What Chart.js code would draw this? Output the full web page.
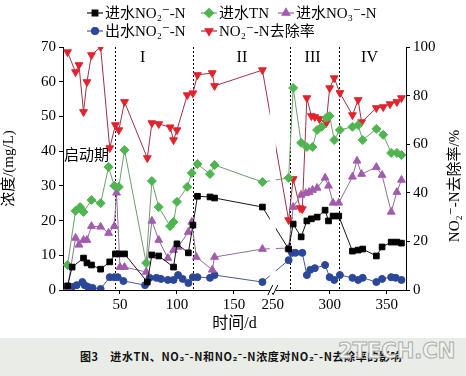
<!doctype html>
<html>
<head>
<meta charset="utf-8">
<title>进水TN、NO3-N和NO2-N浓度对NO2-N去除率的影响</title>
<script src="https://cdn.jsdelivr.net/npm/chart.js@4/dist/chart.umd.min.js"></script>
<style>
	body { margin: 0; background: #fff; }
	#wrap { width: 466px; height: 338px; }
	#caption { position: relative; width: 466px; height: 38px; background: #e9ece7; overflow: hidden; }
	#caption .t { position: absolute; left: 80px; top: 10px; font: bold 11px 'Noto Sans CJK SC', sans-serif; letter-spacing: 0.6px; color: #111; }
	#caption .wm { position: absolute; left: 338px; top: 1px; font: bold 21px 'DejaVu Sans', sans-serif; color: #f3f4f2; -webkit-text-stroke: 1px #a9aea9; }
</style>
</head>
<body>
<div id="wrap"><canvas id="canvas" width="466" height="338"></canvas></div>
<div id="caption"><span class="t">图3　进水TN、NO₃⁻-N和NO₂⁻-N浓度对NO₂⁻-N去除率的影响</span><span class="wm">2TECH.CN</span></div>
<script>
	// days (time axis is broken between ~180 d and ~254 d)
	const inNO2Days = [4, 8, 18, 21, 25, 33, 41, 46, 49, 54, 74, 78, 84, 97, 100, 110, 114, 118, 129, 133, 175,
		264, 268, 275, 280, 284, 289, 296, 299, 303, 308, 320, 325, 329, 341, 346, 354, 359, 363];
	const inNO2 = [1.2, 6.6, 9.2, 7.8, 7.2, 6.0, 8.1, 10.4, 10.4, 10.4, 2.3, 10.1, 9.8, 6.6, 13.3, 10.7, 18.7, 27.0, 26.8, 26.5, 23.9,
		11.8, 19.0, 15.3, 19.9, 20.5, 21.0, 23.0, 19.9, 21.3, 21.3, 11.2, 11.5, 11.8, 9.8, 12.4, 13.8, 13.8, 13.5];

	const tnDays = [4, 11, 15, 18, 25, 33, 40, 45, 49, 54, 73, 78, 84, 94, 97, 100, 109, 113, 118, 129, 133, 175,
		264, 268, 275, 280, 285, 289, 293, 297, 300, 304, 309, 320, 325, 329, 341, 347, 354, 359, 363];
	const inTN = [7.2, 22.8, 23.9, 22.5, 25.9, 25.0, 35.4, 30.0, 29.7, 40.3, 7.8, 31.4, 23.9, 18.4, 19.6, 25.4, 29.7, 33.7, 36.3, 33.4, 36.0, 31.1,
		32.3, 58.2, 42.4, 41.2, 41.2, 46.1, 47.0, 49.6, 50.1, 43.2, 46.1, 47.0, 47.5, 43.2, 46.4, 44.7, 39.5, 39.5, 38.9];

	const no3Days = [4, 11, 14, 18, 21, 25, 33, 40, 45, 47, 50, 54, 73, 78, 84, 92, 97, 101, 110, 113, 117, 131, 133, 175,
		264, 268, 275, 279, 282, 285, 289, 296, 299, 303, 308, 320, 324, 328, 341, 346, 354, 359, 363];
	const inNO3 = [0.6, 15.0, 13.0, 14.4, 14.4, 18.4, 18.2, 16.4, 18.4, 28.0, 6.6, 6.6, 5.2, 19.9, 14.4, 9.2, 11.5, 12.4, 16.7, 19.6, 9.5, 5.8, 9.5, 11.8,
		12.1, 23.9, 27.4, 27.9, 28.2, 28.8, 29.4, 32.3, 30.0, 25.1, 25.1, 32.6, 37.2, 33.4, 35.4, 33.1, 22.5, 28.2, 31.7];

	const outNO2Days = [4, 8, 12, 17, 19, 22, 26, 33, 41, 45, 48, 53, 72, 76, 82, 86, 92, 97, 101, 105, 110, 114, 118, 129, 133, 175,
		264, 267, 270, 276, 280, 283, 287, 296, 300, 304, 309, 320, 325, 329, 341, 346, 354, 358, 363];
	const outNO2 = [0.3, 0.9, 1.4, 2.3, 1.4, 0.9, 0.6, 0.3, 3.7, 3.7, 3.7, 2.6, 1.4, 3.5, 3.5, 3.2, 2.9, 2.9, 4.3, 3.2, 2.0, 3.7, 3.7, 3.5, 4.3, 2.3,
		8.6, 10.7, 10.7, 10.7, 4.3, 5.8, 6.3, 7.2, 3.7, 2.9, 4.3, 3.5, 2.9, 3.5, 2.3, 3.2, 3.7, 3.5, 2.9];

	const rateDays = [4, 11, 14, 18, 21, 25, 33, 41, 46, 49, 54, 74, 78, 84, 94, 97, 100, 109, 114, 118, 131, 133, 175,
		264, 268, 274, 276, 280, 284, 287, 291, 297, 300, 304, 309, 320, 325, 328, 341, 347, 353, 359, 363];
	const removalRate = [97.9, 89.7, 92.6, 73.3, 85.6, 96.7, 100, 58.4, 67.9, 65.8, 77.4, 54.3, 68.7, 68.3, 67.0, 61.7, 65.8, 80.2, 81.0, 88.5, 89.3, 84.0, 90.5,
		28.8, 45.7, 33.7, 33.3, 79.0, 71.6, 71.2, 70.4, 68.7, 83.1, 87.2, 81.1, 72.0, 78.2, 69.1, 74.9, 75.3, 76.5, 77.4, 79.0];

	const xTickDays = [50, 100, 150, 250, 300, 350];
	const phaseBounds = [45.5, 114, 265, 308];
	const phaseNames = ['I', 'II', 'III', 'IV'];
	const phaseLabelDays = [70, 157, 285, 335];

	// axis break: days after BREAK_AT are shifted left by BREAK_SKIP
	const BREAK_AT = 200, BREAK_SKIP = 66;
	const toX = d => d > BREAK_AT ? d - BREAK_SKIP : d;
	const fromX = v => v > 182 ? v + BREAK_SKIP : v;
	const pts = (days, vals) => days.map((d, i) => ({ x: toX(d), y: vals[i] }));

	const serif = "'Liberation Serif', 'DejaVu Serif', 'Noto Sans CJK SC', serif";

	const legendSlots = [[87, 13], [201, 13], [278, 13], [87, 31], [201, 31]];

	const decorations = {
		id: 'decorations',
		beforeDatasetsDraw(chart) {
			const { ctx, chartArea: a, scales: { x } } = chart;
			ctx.save();
			ctx.strokeStyle = '#000';
			ctx.lineWidth = 1;
			ctx.setLineDash([2, 2]);
			phaseBounds.forEach(d => {
				const px = Math.round(x.getPixelForValue(toX(d))) + 0.5;
				ctx.beginPath();
				ctx.moveTo(px, a.top);
				ctx.lineTo(px, a.bottom);
				ctx.stroke();
			});
			ctx.restore();
		},
		afterDatasetsDraw(chart) {
			const { ctx, chartArea: a, scales: { x, y } } = chart;
			ctx.save();
			// gap of the broken axis
			const g0 = x.getPixelForValue(181.5), g1 = x.getPixelForValue(186.8);
			ctx.fillStyle = '#fff';
			ctx.fillRect(g0, a.top - 2, g1 - g0, a.bottom - a.top + 5);
			ctx.strokeStyle = '#000';
			ctx.lineWidth = 1;
			ctx.beginPath();
			ctx.moveTo(g0 - 2, a.bottom + 5); ctx.lineTo(g0 + 3, a.bottom - 5);
			ctx.moveTo(g1 - 3, a.bottom + 5); ctx.lineTo(g1 + 2, a.bottom - 5);
			ctx.stroke();

			ctx.fillStyle = '#000';
			ctx.font = '16px ' + serif;
			ctx.textAlign = 'center';
			ctx.textBaseline = 'middle';
			phaseNames.forEach((n, i) => ctx.fillText(n, x.getPixelForValue(toX(phaseLabelDays[i])), a.top + 11));
			ctx.textAlign = 'left';
			ctx.font = "15px 'Noto Sans CJK SC', sans-serif";
			ctx.fillText('启动期', a.left + 1, y.getPixelForValue(39));
			ctx.restore();
		},
		afterDraw(chart) {
			const { ctx } = chart;
			ctx.save();
			ctx.font = '15px ' + serif;
			ctx.textBaseline = 'middle';
			ctx.textAlign = 'left';
			chart.data.datasets.forEach((ds, i) => {
				const [lx, ly] = legendSlots[i];
				ctx.strokeStyle = ds.borderColor;
				ctx.lineWidth = 1.2;
				ctx.beginPath();
				ctx.moveTo(lx, ly);
				ctx.lineTo(lx + 16, ly);
				ctx.stroke();
				ctx.fillStyle = ds.pointBackgroundColor;
				ctx.strokeStyle = ds.pointBackgroundColor;
				Chart.helpers.drawPoint(ctx, {
					pointStyle: ds.pointStyle, radius: ds.pointRadius, rotation: ds.pointRotation || 0, borderWidth: 1
				}, lx + 8, ly);
				ctx.fillStyle = '#000';
				ctx.fillText(ds.label, lx + 18, ly + 1);
			});
			// right axis title, reading bottom to top
			ctx.translate(455, 186);
			ctx.rotate(-Math.PI / 2);
			ctx.textAlign = 'center';
			ctx.fillText('NO₂⁻-N去除率/%', 0, 0);
			ctx.restore();
		}
	};

	const mk = (label, data, line, fill, style, r, axis, rot) => ({
		label, data, yAxisID: axis,
		borderColor: line, borderWidth: 1,
		pointStyle: style, pointRadius: r, pointRotation: rot || 0,
		pointBackgroundColor: fill, pointBorderColor: fill, pointBorderWidth: 1,
		tension: 0, fill: false
	});

	window.onload = function() {
		const ctx = document.getElementById('canvas').getContext('2d');
		new Chart(ctx, {
			type: 'line',
			data: {
				datasets: [
					mk('进水NO₂⁻-N', pts(inNO2Days, inNO2), '#151515', '#000', 'rect', 4, 'y'),
					mk('进水TN', pts(tnDays, inTN), '#6f9e6f', '#4fb64f', 'rectRot', 4.5, 'y'),
					mk('进水NO₃⁻-N', pts(no3Days, inNO3), '#8e6f93', '#a35bae', 'triangle', 4.5, 'y'),
					mk('出水NO₂⁻-N', pts(outNO2Days, outNO2), '#4b5b8c', '#2b4799', 'circle', 3.5, 'y'),
					mk('NO₂⁻-N去除率', pts(rateDays, removalRate), '#9b3346', '#e4222c', 'triangle', 4.5, 'y1', 180)
				]
			},
			options: {
				responsive: false,
				animation: false,
				layout: { padding: { top: 47, left: 0, right: 0, bottom: 0 } },
				plugins: { legend: { display: false }, tooltip: { enabled: false } },
				scales: {
					x: {
						type: 'linear', min: 0, max: 301,
						grid: { drawOnChartArea: false, color: '#000', tickLength: 4 },
						border: { color: '#000' },
						afterBuildTicks: axis => { axis.ticks = xTickDays.map(d => ({ value: toX(d) })); },
						afterFit: axis => { axis.height = 48; },
						ticks: { color: '#000', font: { family: serif, size: 15 }, maxRotation: 0, padding: 2,
							callback: v => String(Math.round(fromX(v))) },
						title: { display: true, text: '时间/d', color: '#000', font: { family: serif, size: 16 }, padding: { top: 0, bottom: 5 } }
					},
					y: {
						position: 'left', min: 0, max: 70,
						grid: { drawOnChartArea: false, color: '#000', tickLength: 4 },
						border: { color: '#000' },
						afterFit: axis => { axis.width = 63; },
						ticks: { stepSize: 10, color: '#000', font: { family: serif, size: 15 }, padding: 3 },
						title: { display: true, text: '浓度/(mg/L)', color: '#000', font: { family: serif, size: 15 }, padding: 0 }
					},
					y1: {
						position: 'right', min: 0, max: 100,
						grid: { drawOnChartArea: false, color: '#000', tickLength: 4 },
						border: { color: '#000' },
						afterFit: axis => { axis.width = 60; },
						ticks: { stepSize: 20, color: '#000', font: { family: serif, size: 15 }, padding: 3 }
					}
				}
			},
			plugins: [decorations]
		});
	};
</script>
</body>
</html>
